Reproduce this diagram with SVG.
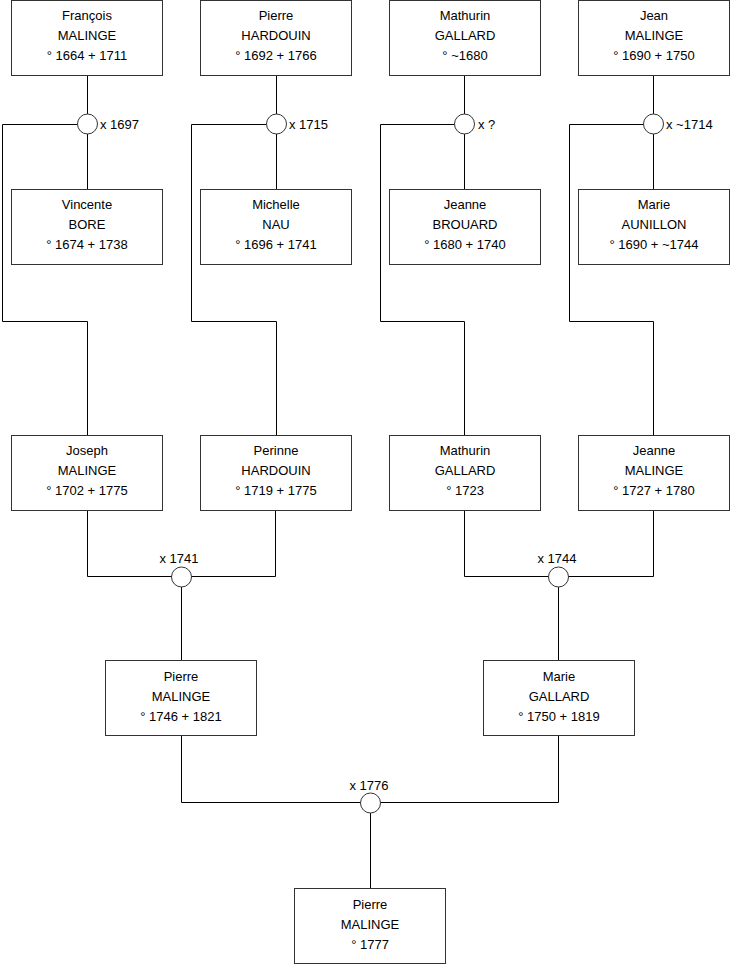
<svg xmlns="http://www.w3.org/2000/svg" width="740" height="975" viewBox="0 0 740 975">
<style>
.box{fill:#fff;stroke:#333;stroke-width:1}
.t{font-family:"Liberation Sans",Arial,sans-serif;font-size:13px;fill:#000;text-anchor:middle}
.l{font-family:"Liberation Sans",Arial,sans-serif;font-size:13px;fill:#000}
.c{fill:none;stroke:#000;stroke-width:1}
.m{fill:#fff;stroke:#333;stroke-width:1}
</style>
<rect width="740" height="975" fill="#fff"/>
<g id="connectors">
<path class="c" d="M87.5,76 V124.5 M87.5,124.5 V189 M77.5,124.5 H2.5 V321.5 H87.5 V435"/>
<path class="c" d="M276.5,76 V189 M266.5,124.5 H191.5 V321.5 H276.5 V435"/>
<path class="c" d="M464.5,76 V189 M454.5,124.5 H380.5 V321.5 H464.5 V435"/>
<path class="c" d="M653.5,76 V189 M643.5,124.5 H569.5 V321.5 H653.5 V435"/>
<path class="c" d="M87.5,511 V576.5 H275.5 V511 M181.5,576.5 V660"/>
<path class="c" d="M464.5,511 V576.5 H653.5 V511 M558.5,576.5 V660"/>
<path class="c" d="M181.5,736 V802.5 H558.5 V736 M370.5,802.5 V888"/>
<circle class="m" cx="87.5" cy="124" r="10"/>
<circle class="m" cx="276.5" cy="124" r="10"/>
<circle class="m" cx="464.5" cy="124" r="10"/>
<circle class="m" cx="653.5" cy="124" r="10"/>
<circle class="m" cx="181.5" cy="577" r="10"/>
<circle class="m" cx="558.5" cy="577" r="10"/>
<circle class="m" cx="370.5" cy="803" r="10"/>
<text class="l" x="100" y="129">x 1697</text>
<text class="l" x="289" y="129">x 1715</text>
<text class="l" x="478" y="129">x ?</text>
<text class="l" x="666" y="129">x ~1714</text>
<text class="t" x="179" y="563">x 1741</text>
<text class="t" x="557" y="563">x 1744</text>
<text class="t" x="369" y="790">x 1776</text>
</g>
<g id="francois"><rect class="box" x="11.5" y="0.5" width="151" height="75"/><text class="t" x="87" y="20">François</text><text class="t" x="87" y="40">MALINGE</text><text class="t" x="87" y="60">° 1664 + 1711</text></g>
<g id="pierre-hardouin"><rect class="box" x="200.5" y="0.5" width="151" height="75"/><text class="t" x="276" y="20">Pierre</text><text class="t" x="276" y="40">HARDOUIN</text><text class="t" x="276" y="60">° 1692 + 1766</text></g>
<g id="mathurin-gallard-1680"><rect class="box" x="389.5" y="0.5" width="151" height="75"/><text class="t" x="465" y="20">Mathurin</text><text class="t" x="465" y="40">GALLARD</text><text class="t" x="465" y="60">° ~1680</text></g>
<g id="jean-malinge"><rect class="box" x="578.5" y="0.5" width="151" height="75"/><text class="t" x="654" y="20">Jean</text><text class="t" x="654" y="40">MALINGE</text><text class="t" x="654" y="60">° 1690 + 1750</text></g>
<g id="vincente-bore"><rect class="box" x="11.5" y="189.5" width="151" height="75"/><text class="t" x="87" y="209">Vincente</text><text class="t" x="87" y="229">BORE</text><text class="t" x="87" y="249">° 1674 + 1738</text></g>
<g id="michelle-nau"><rect class="box" x="200.5" y="189.5" width="151" height="75"/><text class="t" x="276" y="209">Michelle</text><text class="t" x="276" y="229">NAU</text><text class="t" x="276" y="249">° 1696 + 1741</text></g>
<g id="jeanne-brouard"><rect class="box" x="389.5" y="189.5" width="151" height="75"/><text class="t" x="465" y="209">Jeanne</text><text class="t" x="465" y="229">BROUARD</text><text class="t" x="465" y="249">° 1680 + 1740</text></g>
<g id="marie-aunillon"><rect class="box" x="578.5" y="189.5" width="151" height="75"/><text class="t" x="654" y="209">Marie</text><text class="t" x="654" y="229">AUNILLON</text><text class="t" x="654" y="249">° 1690 + ~1744</text></g>
<g id="joseph-malinge"><rect class="box" x="11.5" y="435.5" width="151" height="75"/><text class="t" x="87" y="455">Joseph</text><text class="t" x="87" y="475">MALINGE</text><text class="t" x="87" y="495">° 1702 + 1775</text></g>
<g id="perinne-hardouin"><rect class="box" x="200.5" y="435.5" width="151" height="75"/><text class="t" x="276" y="455">Perinne</text><text class="t" x="276" y="475">HARDOUIN</text><text class="t" x="276" y="495">° 1719 + 1775</text></g>
<g id="mathurin-gallard-1723"><rect class="box" x="389.5" y="435.5" width="151" height="75"/><text class="t" x="465" y="455">Mathurin</text><text class="t" x="465" y="475">GALLARD</text><text class="t" x="465" y="495">° 1723</text></g>
<g id="jeanne-malinge"><rect class="box" x="578.5" y="435.5" width="151" height="75"/><text class="t" x="654" y="455">Jeanne</text><text class="t" x="654" y="475">MALINGE</text><text class="t" x="654" y="495">° 1727 + 1780</text></g>
<g id="pierre-malinge-1746"><rect class="box" x="105.5" y="660.5" width="151" height="75"/><text class="t" x="181" y="681">Pierre</text><text class="t" x="181" y="701">MALINGE</text><text class="t" x="181" y="721">° 1746 + 1821</text></g>
<g id="marie-gallard"><rect class="box" x="483.5" y="660.5" width="151" height="75"/><text class="t" x="559" y="681">Marie</text><text class="t" x="559" y="701">GALLARD</text><text class="t" x="559" y="721">° 1750 + 1819</text></g>
<g id="pierre-malinge-1777"><rect class="box" x="294.5" y="888.5" width="151" height="75"/><text class="t" x="370" y="909">Pierre</text><text class="t" x="370" y="929">MALINGE</text><text class="t" x="370" y="949">° 1777</text></g>
</svg>
